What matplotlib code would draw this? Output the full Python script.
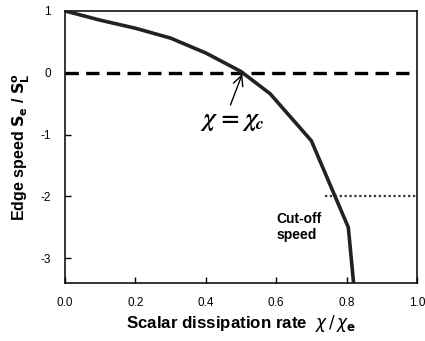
import matplotlib
matplotlib.use('Agg')
import matplotlib.pyplot as plt

# curve
chi_ratio = [0.0, 0.1, 0.2, 0.3, 0.4, 0.5, 0.583, 0.70, 0.805, 0.82]
edge_speed = [1.0, 0.85, 0.72, 0.56, 0.32, 0.02, -0.34, -1.1, -2.5, -3.4]

zero_x = [0.0, 1.0]
zero_y = [0.0, 0.0]
cutoff_x = [0.74, 1.0]
cutoff_y = [-2.0, -2.0]

plt.rcParams['font.family'] = ['Liberation Sans', 'DejaVu Sans']
plt.rcParams['mathtext.fontset'] = 'dejavusans'
plt.rcParams['axes.unicode_minus'] = False

fig = plt.figure(figsize=(4.25, 3.41), dpi=100)
ax = fig.add_axes([0.153, 0.17, 0.828, 0.798])

ax.plot(chi_ratio, edge_speed, color='#222222', linewidth=2.6, zorder=3)
ax.plot(zero_x, zero_y, color='black', linewidth=2.4, linestyle=(0, (4, 2.2)), zorder=2)
ax.plot(cutoff_x, cutoff_y, color='#333333', linewidth=1.6, linestyle=(0, (1, 1.2)), zorder=2)

ax.set_xlim(0, 1.0)
ax.set_ylim(-3.4, 1.0)
ax.set_xticks([0.0, 0.2, 0.4, 0.6, 0.8, 1.0])
ax.set_xticklabels(['0.0', '0.2', '0.4', '0.6', '0.8', '1.0'])
ax.set_yticks([1, 0, -1, -2, -3])
ax.tick_params(direction='in', length=4, width=1, labelsize=8.5, pad=10)
for s in ax.spines.values():
    s.set_linewidth(1.1)

ax.set_xlabel(r'Scalar dissipation rate  $\chi\,/\,\chi_\mathbf{e}$',
              fontsize=12.2, fontweight='bold', labelpad=3)
ax.set_ylabel(r'Edge speed $\mathbf{S_e}$ / $\mathbf{S_L^o}$',
              fontsize=11.5, fontweight='bold', labelpad=6)

ax.annotate(r'$\mathbfit{\chi}\,\mathbf{=}\,\mathbfit{\chi}_\mathbfit{c}$', xy=(0.505, 0.0),
            xytext=(0.475, -0.78), fontsize=18, ha='center', va='center',
            math_fontfamily='stix',
            arrowprops=dict(arrowstyle='->', color='black', lw=1.0,
                            relpos=(0.45, 1.0), shrinkA=1, shrinkB=1))
ax.text(0.6, -2.5, 'Cut-off\nspeed', fontsize=10, fontweight='bold',
        ha='left', va='center', linespacing=1.2)

fig.savefig('out.png', dpi=100)
